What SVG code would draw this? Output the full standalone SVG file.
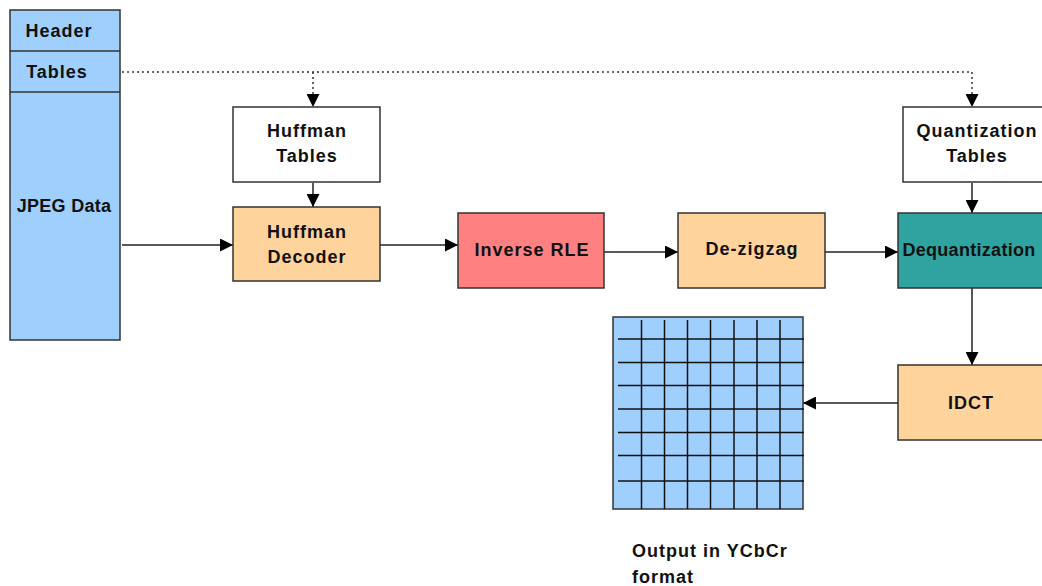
<svg xmlns="http://www.w3.org/2000/svg" width="1042" height="586" viewBox="0 0 1042 586">
<defs>
<style>
.box{stroke:#333;stroke-width:1.5}
.t{font-family:"Liberation Sans",Arial,sans-serif;font-weight:bold;font-size:18px;fill:#111;text-anchor:middle;letter-spacing:1px}
.c{stroke:#222;stroke-width:1.5;fill:none}
.d{stroke:#333;stroke-width:1.5;fill:none;stroke-dasharray:2 3}
.g{stroke:#111;stroke-width:1.5}
</style>
<marker id="ahl" viewBox="0 0 10 10" refX="10" refY="5" markerWidth="13" markerHeight="13" markerUnits="userSpaceOnUse" orient="auto">
<path d="M0,0 L10,5 L0,10 Z" fill="#000"/>
</marker>
</defs>
<rect width="1042" height="586" fill="#fff"/>
<g id="connectors">
<path class="d" d="M122,72 H972"/>
<path class="d" d="M313,72 V107" marker-end="url(#ahl)"/>
<path class="d" d="M972,72 V107" marker-end="url(#ahl)"/>
<path class="c" d="M313,183 V207" marker-end="url(#ahl)"/>
<path class="c" d="M122,245 H233" marker-end="url(#ahl)"/>
<path class="c" d="M380,245 H458" marker-end="url(#ahl)"/>
<path class="c" d="M604,252 H678" marker-end="url(#ahl)"/>
<path class="c" d="M825,252 H898" marker-end="url(#ahl)"/>
<path class="c" d="M972,183 V213" marker-end="url(#ahl)"/>
<path class="c" d="M972,288 V365" marker-end="url(#ahl)"/>
<path class="c" d="M898,403 H803" marker-end="url(#ahl)"/>
</g>
<g id="jpeg-stream">
<rect class="box" x="10" y="10" width="110" height="330" fill="#9fcffd"/>
<line class="box" x1="10" y1="51" x2="120" y2="51"/>
<line class="box" x1="10" y1="92" x2="120" y2="92"/>
<text class="t" x="59" y="37">Header</text>
<text class="t" x="57" y="78">Tables</text>
<text class="t" x="64" y="212" style="letter-spacing:0.3px">JPEG Data</text>
</g>
<g id="huffman-tables">
<rect class="box" x="233" y="107" width="147" height="75" fill="#fff"/>
<text class="t" x="307" y="137">Huffman</text>
<text class="t" x="307" y="162">Tables</text>
</g>
<g id="huffman-decoder">
<rect class="box" x="233" y="207" width="147" height="74" fill="#fed39c"/>
<text class="t" x="307" y="238">Huffman</text>
<text class="t" x="307" y="263">Decoder</text>
</g>
<g id="inverse-rle">
<rect class="box" x="458" y="213" width="146" height="75" fill="#ff8080"/>
<text class="t" x="532" y="256">Inverse RLE</text>
</g>
<g id="de-zigzag">
<rect class="box" x="678" y="213" width="147" height="75" fill="#fed39c"/>
<text class="t" x="752" y="255">De-zigzag</text>
</g>
<g id="quantization-tables">
<rect class="box" x="903" y="107" width="145" height="75" fill="#fff"/>
<text class="t" x="977" y="137">Quantization</text>
<text class="t" x="977" y="162">Tables</text>
</g>
<g id="dequantization">
<rect class="box" x="898" y="213" width="150" height="75" fill="#2fa3a0"/>
<text class="t" x="969" y="256" style="letter-spacing:0.3px">Dequantization</text>
</g>
<g id="idct">
<rect class="box" x="898" y="365" width="150" height="75" fill="#fed39c"/>
<text class="t" x="971" y="409">IDCT</text>
</g>
<g id="output-grid">
<rect class="box" x="613" y="317" width="190" height="192" fill="#9fcffd"/>
<g class="g">
<line x1="641.5" y1="320" x2="641.5" y2="509"/>
<line x1="664.5" y1="320" x2="664.5" y2="509"/>
<line x1="687.5" y1="320" x2="687.5" y2="509"/>
<line x1="710.5" y1="320" x2="710.5" y2="509"/>
<line x1="734" y1="320" x2="734" y2="509"/>
<line x1="757" y1="320" x2="757" y2="509"/>
<line x1="780" y1="320" x2="780" y2="509"/>
<line x1="618" y1="339" x2="804" y2="339"/>
<line x1="618" y1="362.5" x2="804" y2="362.5"/>
<line x1="618" y1="385.5" x2="804" y2="385.5"/>
<line x1="618" y1="409" x2="804" y2="409"/>
<line x1="618" y1="432.5" x2="804" y2="432.5"/>
<line x1="618" y1="455.5" x2="804" y2="455.5"/>
<line x1="618" y1="481" x2="804" y2="481"/>
</g>
<text class="t" x="632" y="557" style="text-anchor:start">Output in YCbCr</text>
<text class="t" x="632" y="583" style="text-anchor:start">format</text>
</g>
</svg>
